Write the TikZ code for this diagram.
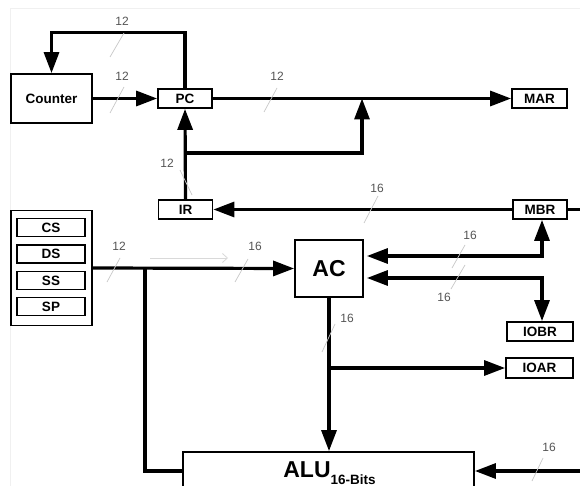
\documentclass[tikz,border=0pt]{standalone}
\usepackage{fontspec}
\setmainfont{Liberation Sans}
\usetikzlibrary{arrows.meta}
\definecolor{lbl}{HTML}{555555}
\definecolor{sl}{HTML}{C8C8C8}
\begin{document}
\begin{tikzpicture}[x=1pt,y=-1pt,
  reg/.style={draw,line width=1.8pt,inner sep=0pt,font=\bfseries\fontsize{13.5}{14}\selectfont},
  wire/.style={line width=3.2pt},
  arr/.style={wire,-{Triangle[length=21pt,width=15pt]}},
  dbl/.style={wire,{Triangle[length=21pt,width=15pt]}-{Triangle[length=21pt,width=15pt]}},
  num/.style={text=lbl,font=\fontsize{12}{12}\selectfont,inner sep=0pt},
  slash/.style={draw=sl,line width=0.7pt}]
\clip (0,0) rectangle (580,486);
\fill[white] (0,0) rectangle (580,486);
\draw[gray!12,line width=0.8pt] (10,8) rectangle (600,500);
% registers
\node[reg,minimum width=81pt,minimum height=49pt] (counter) at (51.5,98.5) {Counter};
\node[reg,minimum width=54pt,minimum height=19pt] (pc) at (185,98.5) {PC};
\node[reg,minimum width=55pt,minimum height=19pt] (mar) at (539.5,98.5) {MAR};
\node[reg,minimum width=54pt,minimum height=19pt] (ir) at (185.5,209.5) {IR};
\node[reg,minimum width=54pt,minimum height=19pt] (mbr) at (540,209.5) {MBR};
\node[reg,minimum width=81pt,minimum height=115pt] (grp) at (51.5,268) {};
\node[reg,minimum width=68pt,minimum height=18pt] (cs) at (51,227.5) {CS};
\node[reg,minimum width=68pt,minimum height=18pt] (ds) at (51,254) {DS};
\node[reg,minimum width=68pt,minimum height=18pt] (ss) at (51,280.5) {SS};
\node[reg,minimum width=68pt,minimum height=18pt] (sp) at (51,306.5) {SP};
\node[reg,minimum width=68pt,minimum height=57pt,font=\bfseries\fontsize{23}{23}\selectfont] (ac) at (329,268.5) {AC};
\node[reg,minimum width=66pt,minimum height=19pt] (iobr) at (540,331.5) {IOBR};
\node[reg,minimum width=67pt,minimum height=20pt] (ioar) at (539.5,368) {IOAR};
\node[reg,minimum width=291pt,minimum height=38pt] (alu) at (328.5,471) {};
\node[anchor=base,inner sep=0pt,font=\bfseries] (alutxt) at (329.5,477) {\fontsize{23}{23}\selectfont ALU\raisebox{-7pt}{\fontsize{13.5}{14}\selectfont 16-Bits}};
% free ends
\coordinate (j0) at (185.5,153);
\coordinate (j1) at (362,98.5);
\coordinate (j2) at (145,268);
\coordinate (mbrout) at (590,209.5);
\coordinate (aluR) at (590,471);
\coordinate (fa1) at (150,258);
\coordinate (fa2) at (228,258);
% connectors
\draw[arr] (pc.north) -- ++(0,-55.5) -| (counter.north);
\draw[arr] (counter.east) -- (pc.west);
\draw[arr] (pc.east) -- (mar.west);
\draw[arr] (ir.north) -- (pc.south);
\draw[arr] (j0) -| (j1);
\draw[arr] (mbr.west) -- (ir.east);
\draw[wire] (mbr.east) -- (mbrout);
\draw[arr] (grp.east) -- (ac.west);
\draw[wire] (j2) |- (alu.west);
\draw[dbl] ([yshift=12.5pt,xshift=3pt]ac.east) -| ([xshift=2pt]mbr.south);
\draw[dbl] ([yshift=-9.5pt,xshift=3pt]ac.east) -| ([xshift=2pt]iobr.north);
\draw[arr] (ac.south) -- (ac.south |- alu.north);
\draw[arr] (ac.south |- ioar.west) -- (ioar.west);
\draw[arr] (aluR) -- (alu.east);
\draw[gray!30,line width=0.8pt,-{Straight Barb[length=5pt,width=9pt]}] (fa1) -- (fa2);
% bus widths
\node[num] at (122,21) {12}; \draw[slash] (124,33) -- (110,57);
\node[num] at (122,76) {12}; \draw[slash] (124,87) -- (110,113);
\node[num] at (277,76) {12}; \draw[slash] (277,88) -- (264,112);
\node[num] at (167,163) {12}; \draw[slash] (180,170) -- (192,195);
\node[num] at (377,188) {16}; \draw[slash] (378,196) -- (364,223);
\node[num] at (119,246) {12}; \draw[slash] (120,258) -- (107,282);
\node[num] at (255,246) {16}; \draw[slash] (248,259) -- (235,282);
\node[num] at (470,235) {16}; \draw[slash] (465,245) -- (452,268);
\node[num] at (444,297) {16}; \draw[slash] (465,265) -- (451,289);
\node[num] at (347,318) {16}; \draw[slash] (335,324) -- (322,352);
\node[num] at (549,447) {16}; \draw[slash] (543,458) -- (532,481);
\end{tikzpicture}
\end{document}
